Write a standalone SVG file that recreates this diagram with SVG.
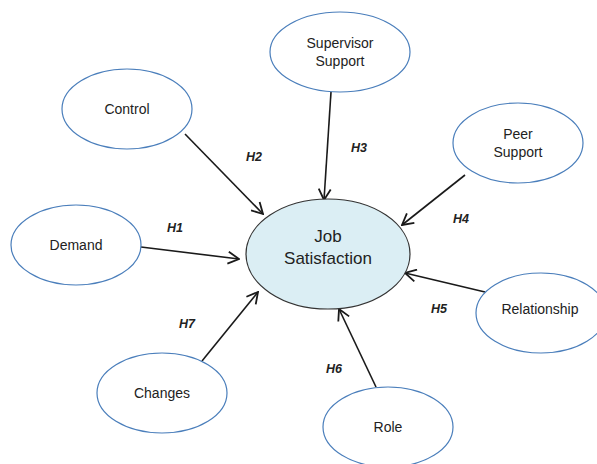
<svg xmlns="http://www.w3.org/2000/svg" width="597" height="464" viewBox="0 0 597 464">
<defs>
<style>
.node{fill:#ffffff;stroke:#4a7ebb;stroke-width:1.2}
.center{fill:#dbeef4;stroke:#333333;stroke-width:1.2}
.lbl{font-family:"Liberation Sans",Arial,sans-serif;font-size:14px;fill:#222;text-anchor:middle}
.big{font-family:"Liberation Sans",Arial,sans-serif;font-size:17px;fill:#222;text-anchor:middle}
.h{font-family:"Liberation Sans",Arial,sans-serif;font-size:12.5px;font-weight:bold;font-style:italic;fill:#222;text-anchor:middle}
.arr{stroke:#1a1a1a;stroke-width:1.6;fill:none;marker-end:url(#ah)}
</style>
<marker id="ah" markerUnits="userSpaceOnUse" viewBox="0 0 14 14" refX="13" refY="7" markerWidth="14" markerHeight="14" orient="auto">
<path d="M2,1 L13,7 L2,13" fill="none" stroke="#1a1a1a" stroke-width="1.8"/>
</marker>
</defs>
<rect width="597" height="464" fill="#ffffff"/>
<g id="connectors">
<line class="arr" x1="185" y1="134" x2="263" y2="214"/>
<line class="arr" x1="141" y1="247" x2="239" y2="259"/>
<line class="arr" x1="331" y1="92" x2="324" y2="200"/>
<line class="arr" x1="465" y1="175" x2="402" y2="225"/>
<line class="arr" x1="485" y1="292" x2="405" y2="273"/>
<line class="arr" x1="376" y1="387" x2="339" y2="309"/>
<line class="arr" x1="202" y1="361" x2="258" y2="292"/>
<text class="h" x="175" y="232">H1</text>
<text class="h" x="254" y="161">H2</text>
<text class="h" x="359" y="152">H3</text>
<text class="h" x="461" y="223">H4</text>
<text class="h" x="439" y="313">H5</text>
<text class="h" x="334" y="373">H6</text>
<text class="h" x="187" y="328">H7</text>
</g>
<g id="job-satisfaction">
<ellipse class="center" cx="328" cy="254" rx="82" ry="55"/>
<text class="big" x="328" y="242">Job</text>
<text class="big" x="328" y="264">Satisfaction</text>
</g>
<g id="control">
<ellipse class="node" cx="127" cy="109" rx="65" ry="40"/>
<text class="lbl" x="127" y="114">Control</text>
</g>
<g id="demand">
<ellipse class="node" cx="76" cy="245" rx="65" ry="40"/>
<text class="lbl" x="76" y="250">Demand</text>
</g>
<g id="supervisor-support">
<ellipse class="node" cx="340" cy="52" rx="70" ry="40"/>
<text class="lbl" x="340" y="48">Supervisor</text>
<text class="lbl" x="340" y="66">Support</text>
</g>
<g id="peer-support">
<ellipse class="node" cx="518" cy="143" rx="65" ry="40"/>
<text class="lbl" x="518" y="139">Peer</text>
<text class="lbl" x="518" y="157">Support</text>
</g>
<g id="relationship">
<ellipse class="node" cx="541" cy="313" rx="65" ry="40"/>
<text class="lbl" x="540" y="314">Relationship</text>
</g>
<g id="changes">
<ellipse class="node" cx="162" cy="393" rx="65" ry="40"/>
<text class="lbl" x="162" y="398">Changes</text>
</g>
<g id="role">
<ellipse class="node" cx="388" cy="427" rx="65" ry="40"/>
<text class="lbl" x="388" y="432">Role</text>
</g>
</svg>
